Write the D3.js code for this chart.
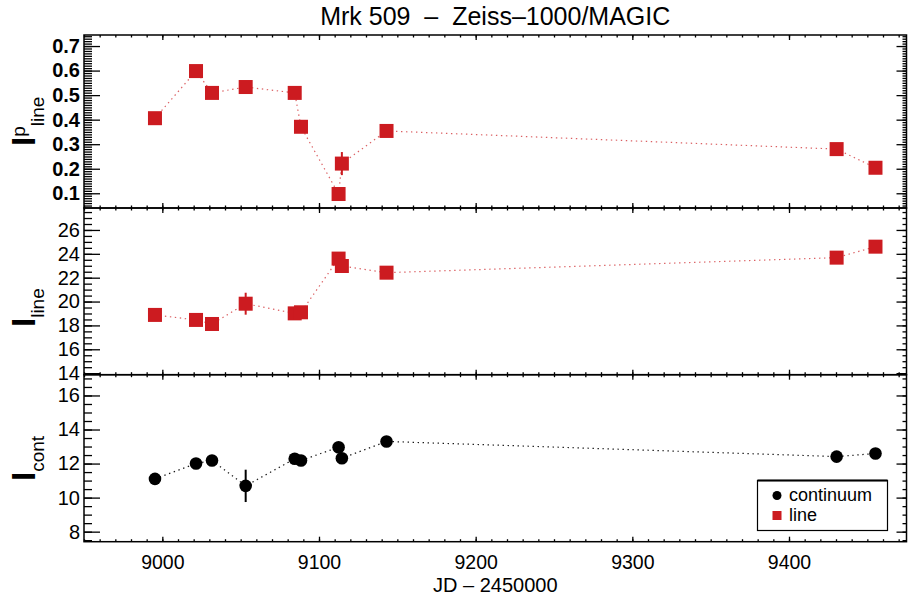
<!DOCTYPE html>
<html>
<head>
<meta charset="utf-8">
<script src="https://cdn.jsdelivr.net/npm/d3@7"></script>
<style>
  html, body { margin: 0; padding: 0; background: #fff; }
  svg { display: block; font-family: "Liberation Sans", Arial, Helvetica, sans-serif; }
</style>
</head>
<body>
<svg id="chart" width="909" height="599"></svg>
<script>
// Observation epochs, JD - 2450000
const jd = [8995.3, 9021.5, 9031.7, 9053.2, 9084.5, 9088.5, 9112.5, 9114.6, 9143.1, 9430.4, 9455.2];

// Polarized line flux
const pLine    = [0.406, 0.598, 0.509, 0.533, 0.509, 0.371, 0.097, 0.221, 0.354, 0.280, 0.204];
const pLineErr = [0.015, 0.015, 0.015, 0.015, 0.015, 0.015, 0.015, 0.047, 0.015, 0.015, 0.015];

// Total line flux
const iLine    = [18.88, 18.46, 18.12, 19.82, 19.01, 19.10, 23.60, 22.98, 22.42, 23.68, 24.60];
const iLineErr = [0.3, 0.3, 0.3, 0.92, 0.3, 0.3, 0.3, 0.3, 0.3, 0.3, 0.3];

// Continuum flux
const iCont    = [11.10, 12.00, 12.18, 10.69, 12.28, 12.18, 12.96, 12.31, 13.30, 12.41, 12.59];
const iContErr = [0.3, 0.3, 0.3, 0.95, 0.3, 0.3, 0.3, 0.3, 0.3, 0.3, 0.3];

// Axis ticks
const xMajor = [9000, 9100, 9200, 9300, 9400];
const pTicks = [0.1, 0.2, 0.3, 0.4, 0.5, 0.6, 0.7];
const lineTicks = [14, 16, 18, 20, 22, 24, 26];
const contTicks = [8, 10, 12, 14, 16];

const titleText = "Mrk 509  \u2013  Zeiss\u20131000/MAGIC";
const xTitle = "JD \u2013 2450000";
const legendLabels = ["continuum", "line"];

const RED = "#cc1b20";
const BLACK = "#000";

const svg = d3.select("#chart");
const left = 84, right = 906.5;

const x = d3.scaleLinear().domain([8950, 9475]).range([left, right]);
const xMinor = d3.range(8950, 9476, 10);

const panels = [
  { top: 35, bottom: 208, domain: [0.040, 0.745], vals: pLine, errs: pLineErr,
    ticks: pTicks, minor: d3.range(5, 75).map(d => d / 100), fmt: d3.format(".1f"), bold: true,
    color: RED, shape: "square", label: { main: "I", sup: "p", sub: "line", start: 146 } },
  { top: 208, bottom: 374.7, domain: [13.87, 27.84], vals: iLine, errs: iLineErr,
    ticks: lineTicks, minor: d3.range(28, 56).map(d => d / 2), fmt: d3.format("d"), bold: false,
    color: RED, shape: "square", label: { main: "I", sub: "line", start: 327 } },
  { top: 374.7, bottom: 541.7, domain: [7.41, 17.22], vals: iCont, errs: iContErr,
    ticks: contTicks, minor: d3.range(15, 35).map(d => d / 2), fmt: d3.format("d"), bold: false,
    color: BLACK, shape: "circle", label: { main: "I", sub: "cont", start: 481 } }
];

panels.forEach((p, idx) => {
  const y = d3.scaleLinear().domain(p.domain).range([p.bottom, p.top]);
  const g = svg.append("g");

  // dotted connecting line
  const line = d3.line().x((d, i) => x(jd[i])).y(d => y(d));
  g.append("path").datum(p.vals)
    .attr("d", line)
    .attr("fill", "none")
    .attr("stroke", p.color)
    .attr("stroke-opacity", p.color === RED ? 0.7 : 0.9)
    .attr("stroke-width", 1.2)
    .attr("stroke-dasharray", "1.4,3.6");

  // error bars
  g.selectAll("line.err").data(p.vals).join("line")
    .attr("class", "err")
    .attr("x1", (d, i) => x(jd[i])).attr("x2", (d, i) => x(jd[i]))
    .attr("y1", (d, i) => y(d - p.errs[i])).attr("y2", (d, i) => y(d + p.errs[i]))
    .attr("stroke", p.color).attr("stroke-width", 2);

  // markers
  if (p.shape === "square") {
    const s = 14;
    g.selectAll("rect.pt").data(p.vals).join("rect")
      .attr("class", "pt")
      .attr("x", (d, i) => x(jd[i]) - s / 2).attr("y", d => y(d) - s / 2)
      .attr("width", s).attr("height", s)
      .attr("fill", p.color);
  } else {
    g.selectAll("circle.pt").data(p.vals).join("circle")
      .attr("class", "pt")
      .attr("cx", (d, i) => x(jd[i])).attr("cy", d => y(d))
      .attr("r", 6.3)
      .attr("fill", p.color);
  }

  // frame
  g.append("rect")
    .attr("x", left).attr("y", p.top)
    .attr("width", right - left).attr("height", p.bottom - p.top)
    .attr("fill", "none").attr("stroke", "#000").attr("stroke-width", 1.5);

  const axStyle = sel => {
    sel.select(".domain").remove();
    sel.selectAll(".tick line").attr("stroke", "#000").attr("stroke-width", 1.3);
  };

  // x ticks (inward) at bottom and top of each panel
  const xb = g.append("g").attr("transform", `translate(0,${p.bottom})`)
    .call(d3.axisBottom(x).tickValues(xMajor).tickSize(-5)
      .tickFormat(idx === 2 ? d3.format("d") : () => "").tickPadding(13));
  axStyle(xb);
  xb.selectAll("text").attr("font-size", 19.5).attr("fill", "#000")
    .attr("font-family", "Liberation Sans, Arial, sans-serif");
  axStyle(g.append("g").attr("transform", `translate(0,${p.bottom})`)
    .call(d3.axisBottom(x).tickValues(xMinor).tickSize(-2.5).tickFormat(() => "")));
  axStyle(g.append("g").attr("transform", `translate(0,${p.top})`)
    .call(d3.axisTop(x).tickValues(xMajor).tickSize(-5).tickFormat(() => "")));
  axStyle(g.append("g").attr("transform", `translate(0,${p.top})`)
    .call(d3.axisTop(x).tickValues(xMinor).tickSize(-2.5).tickFormat(() => "")));

  // y ticks, left with labels, right without
  const yl = g.append("g").attr("transform", `translate(${left},0)`)
    .call(d3.axisLeft(y).tickValues(p.ticks).tickSize(-16).tickPadding(4).tickFormat(p.fmt));
  axStyle(yl);
  yl.selectAll("text").attr("font-size", 20).attr("fill", "#000")
    .attr("font-weight", p.bold ? "bold" : "normal")
    .attr("font-family", "Liberation Sans, Arial, sans-serif");
  axStyle(g.append("g").attr("transform", `translate(${left},0)`)
    .call(d3.axisLeft(y).tickValues(p.minor).tickSize(-8).tickFormat(() => "")));
  axStyle(g.append("g").attr("transform", `translate(${right},0)`)
    .call(d3.axisRight(y).tickValues(p.ticks).tickSize(-10).tickFormat(() => "")));
  axStyle(g.append("g").attr("transform", `translate(${right},0)`)
    .call(d3.axisRight(y).tickValues(p.minor).tickSize(-4).tickFormat(() => "")));

  // rotated y-axis title: I with super/subscripts
  const t = svg.append("text")
    .attr("transform", `translate(35,${p.label.start}) rotate(-90)`)
    .attr("fill", "#000");
  t.append("tspan").attr("font-size", 33).attr("font-weight", "bold").text(p.label.main);
  if (p.label.sup) {
    t.append("tspan").attr("font-size", 19).attr("dy", -10).text(p.label.sup);
    t.append("tspan").attr("font-size", 19).attr("dy", 19).text(p.label.sub);
  } else {
    t.append("tspan").attr("font-size", 19).attr("dy", 9).text(p.label.sub);
  }
});

// title
svg.append("text")
  .attr("x", (left + right) / 2).attr("y", 25)
  .attr("text-anchor", "middle").attr("font-size", 25).attr("fill", "#000")
  .style("white-space", "pre")
  .text(titleText);

// x axis title
svg.append("text")
  .attr("x", (left + right) / 2).attr("y", 592)
  .attr("text-anchor", "middle").attr("font-size", 20).attr("fill", "#000")
  .text(xTitle);

// legend
const lg = svg.append("g");
lg.append("rect").attr("x", 757.5).attr("y", 480.5).attr("width", 130).attr("height", 50)
  .attr("fill", "#fff").attr("stroke", "#000").attr("stroke-width", 1.2);
lg.append("line").attr("x1", 757.5).attr("x2", 887.5).attr("y1", 480.5).attr("y2", 480.5)
  .attr("stroke", "#000").attr("stroke-width", 2);
lg.append("circle").attr("cx", 777).attr("cy", 495.5).attr("r", 4.5).attr("fill", BLACK);
lg.append("rect").attr("x", 772.5).attr("y", 511).attr("width", 9).attr("height", 9).attr("fill", RED);
lg.selectAll("text.lab").data(legendLabels).join("text")
  .attr("class", "lab")
  .attr("x", 789).attr("y", (d, i) => 501 + i * 20)
  .attr("font-size", 18).attr("fill", "#000")
  .text(d => d);
</script>
</body>
</html>
